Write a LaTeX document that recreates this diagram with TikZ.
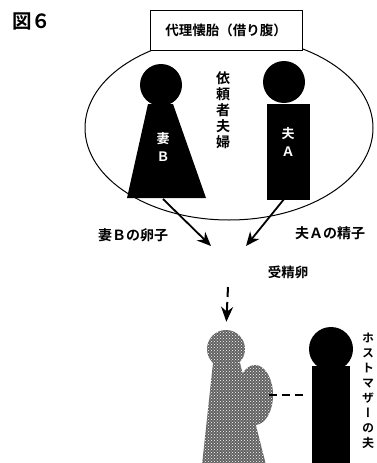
\documentclass[tikz,border=0pt]{standalone}
\usepackage{fontspec}
\setmainfont{Noto Sans CJK JP}[BoldFont={Noto Sans CJK JP Bold}]
\newfontfamily\vjp{Noto Sans CJK JP Bold}[RawFeature=+vert]
\usetikzlibrary{shapes.geometric,arrows.meta,patterns}

\begin{document}
\begin{tikzpicture}[x=1pt,y=-1pt,
        head/.style={circle,fill=black,inner sep=0pt,minimum size=42pt},
        titlebox/.style={draw,fill=white,line width=1pt,minimum width=152pt,minimum height=40pt,
            font=\fontsize{13.5}{16}\selectfont\bfseries},
        inlabel/.style={text=white,align=center,inner sep=0pt,font=\fontsize{13}{18}\selectfont\bfseries},
        label/.style={font=\fontsize{14}{16}\selectfont\bfseries,inner sep=0pt},
        vlabel/.style={align=center,inner sep=0pt,anchor=north},
        grainy/.style={fill=black!62,postaction={pattern=crosshatch dots,pattern color=white}},
        arrow/.style={line width=1.8pt,-{Stealth[length=14pt,width=12pt]}},
        link/.style={line width=2.5pt,dash pattern=on 8pt off 5pt}]
    \useasboundingbox (0,0) rectangle (376,463);
    \clip (0,0) rectangle (376,463);

    \node[anchor=west,inner sep=0pt,font=\fontsize{19.5}{20}\selectfont\bfseries] (fig) at (12,21) {図６};

    % the couple who asked for it
    \node[ellipse,draw,line width=1pt,minimum width=288pt,minimum height=184pt] (couple) at (229,128) {};
    \node[titlebox] (title) at (226,30) {代理懐胎（借り腹）};

    \foreach \n/\x/\y in {wifeHead/161/85, husbHead/284/82}
        \node[head] (\n) at (\x,\y) {};
    \fill (148,104) -- (173,104) -- (206,198) -- (127,198) -- cycle;
    \coordinate (wifeFoot) at (163,199);
    \node[inlabel] (wifeB) at (163,147) {妻\\Ｂ};
    \node[fill=black,inner sep=0pt,minimum width=43pt,minimum height=96pt] (husbA) at (288,152) {};
    \node[inlabel] at (husbA.center) [yshift=10pt] {夫\\Ａ};

    \node[vlabel,font=\fontsize{14}{16}\vjp] (clients) at (223,71) {依\\頼\\者\\夫\\婦};

    % egg and sperm meet
    \coordinate (eggL) at (211,246);
    \coordinate (eggR) at (246,246);
    \draw[arrow] (wifeFoot) -- (eggL);
    \draw[arrow] ([yshift=6pt]husbA.south) -- (eggR);
    \node[label] (egg) at (133,235) {妻Ｂの卵子};
    \node[label] (sperm) at (330,233) {夫Ａの精子};
    \node[label,font=\fontsize{13.5}{16}\selectfont\bfseries] (zygote) at (288,272) {受精卵};

    % host mother and her husband
    \node[ellipse,grainy,inner sep=0pt,minimum width=36pt,minimum height=60pt] (belly) at (255,395) {};
    \path[grainy] (213,363) -- (240,363) -- (266,465) -- (202,465) -- cycle;
    \node[circle,grainy,inner sep=0pt,minimum size=38pt] (hostHead) at (226,349) {};
    \coordinate (implant) at (228,287);
    \draw[line width=2pt,dash pattern=on 10pt off 5pt,-{Stealth[length=15pt,width=12pt]},shorten >=8pt]
        (implant) -- (hostHead.north);

    \node[head,minimum size=44pt] (hostHusbHead) at (331,349) {};
    \node[fill=black,inner sep=0pt,minimum width=38pt,minimum height=100pt] (hostHusb) at (331,416) {};
    \draw[link,shorten <=-4pt,shorten >=4pt] (belly.east) -- (belly.east -| hostHusb.west);

    \node[vlabel,font=\fontsize{12}{15}\vjp] (hostLabel) at (368,333) {ホ\\ス\\ト\\マ\\ザ\\ー\\の\\夫};
\end{tikzpicture}
\end{document}
